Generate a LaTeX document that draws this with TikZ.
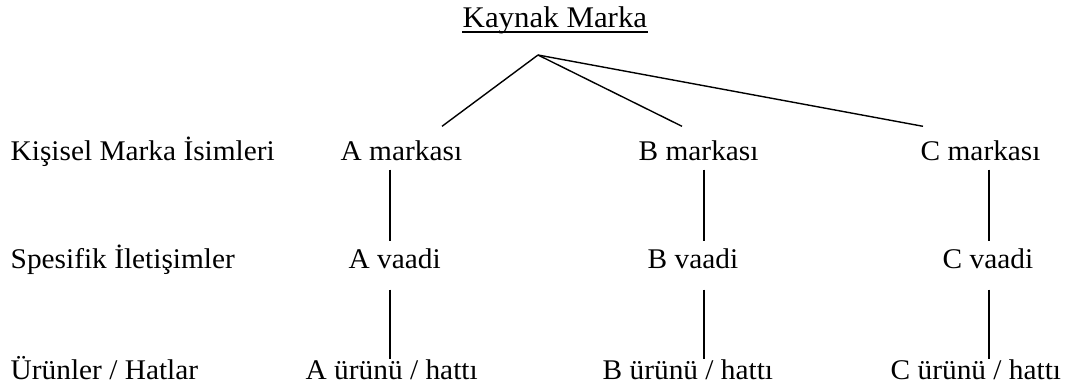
\documentclass[tikz,border=0pt]{standalone}
\usepackage{fontspec}
\setmainfont{Liberation Serif}[FakeStretch=1.03]
\usepackage{tikz}
\usetikzlibrary{calc,positioning}
\tikzset{
  lbl/.style  = {anchor=base west, inner sep=0pt, text height=19pt, text depth=6pt,
                 font=\fontsize{28.5}{32}\selectfont},
  title/.style = {lbl, font=\fontsize{30}{34}\selectfont},
  link/.style = {line width=1.4pt}
}

\begin{document}
\begin{tikzpicture}[x=1pt,y=-1pt,link]
\useasboundingbox (0,0) rectangle (1089,389);
\node [title] (kaynak) at (462,27) {Kaynak Marka};
\draw [line width=1.7pt] ([yshift=-5pt]kaynak.base west) -- ([yshift=-5pt]kaynak.base east);
\coordinate (tepe) at (538,55);
\node [lbl] (kisisel) at (10,160) {Kişisel Marka İsimleri};
\node [lbl] (spesifik) at (10,268) {Spesifik İletişimler};
\node [lbl] (urunler) at (10,379) {Ürünler / Hatlar};
\node [lbl] (markaA) at (340,160) {A markası};
\node [lbl] (markaB) at (638,160) {B markası};
\node [lbl] (markaC) at (920,160) {C markası};
\node [lbl] (vaatA) at (348,268) {A vaadi};
\node [lbl] (vaatB) at (647,268) {B vaadi};
\node [lbl] (vaatC) at (942,268) {C vaadi};
\node [lbl] (urunA) at (305,379) {A ürünü / hattı};
\node [lbl] (urunB) at (602,379) {B ürünü / hattı};
\node [lbl] (urunC) at (890,379) {C ürünü / hattı};
\draw (tepe) -- ([xshift=102pt,yshift=14pt]markaA.north west);
\draw (tepe) -- ([xshift=44pt,yshift=14pt]markaB.north west);
\draw (tepe) -- ([xshift=3pt,yshift=14pt]markaC.north west);
\foreach \k/\x in {A/390,B/704,C/989}{
  \draw [shorten <=3pt, shorten >=7pt] (\x,0 |- marka\k.south) -- (\x,0 |- vaat\k.north);
  \draw [shorten <=15pt] (\x,0 |- vaat\k.south) -- (\x,0 |- urun\k.north);
}
\end{tikzpicture}
\end{document}
